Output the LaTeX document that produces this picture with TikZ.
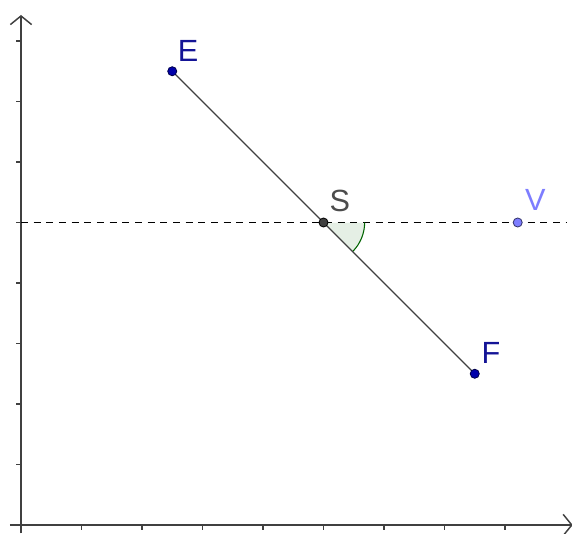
\documentclass[tikz,border=0pt]{standalone}
\usepackage{fontspec}
\setmainfont{Liberation Sans}
\usetikzlibrary{arrows.meta}
\definecolor{ptblue}{RGB}{0,0,170}
\definecolor{lblblue}{RGB}{20,20,150}
\definecolor{vcol}{RGB}{125,125,255}
\definecolor{angcol}{RGB}{0,100,0}
\begin{document}
\begin{tikzpicture}[x=45.375pt,y=45.375pt,
  axis/.style={line width=1.1pt,draw=black!75,-{Straight Barb[length=6.5pt,width=16pt,line width=1.1pt]}},
  tick/.style={line width=1.1pt,draw=black!75},
  pt/.style={circle,inner sep=0pt,minimum size=6.8pt,line width=0.6pt},
  lbl/.style={inner sep=0pt,font=\fontsize{23}{26}\selectfont}]
\useasboundingbox (-0.3471,-0.1322) rectangle (9.1074,8.6777);
% axes
\coordinate (xs) at (-0.182,0);
\coordinate (xe) at (9.12,0);
\coordinate (ys) at (0,-0.14);
\coordinate (ye) at (0,8.43);
\draw[axis] (xs) -- (xe);
\draw[axis] (ys) -- (ye);
\foreach \i in {1,...,8} {\draw[tick] (\i,0) -- (\i,-0.09);}
\foreach \i in {1,...,8} {\draw[tick] (0,\i) -- (-0.09,\i);}
% dashed line
\coordinate (dl) at (0,5);
\coordinate (dr) at (9.02,5);
\draw[dash pattern=on 5.2pt off 4.3pt,line width=1pt] (dl) -- (dr);
% points coords
\coordinate (Ec) at (2.5,7.5);
\coordinate (Fc) at (7.5,2.5);
\coordinate (Sc) at (5,5);
% angle
\fill[angcol,fill opacity=0.1] (Sc) -- ++(0:0.68) arc[start angle=0,end angle=-45,radius=0.68] -- cycle;
\draw[angcol,line width=0.8pt] (Sc) ++(0:0.68) arc[start angle=0,end angle=-45,radius=0.68];
% segment
\draw[line width=1pt,black!75] (Ec) -- (Fc);
% points
\node[pt,fill=ptblue,draw=black!70!blue] (E) at (Ec) {};
\node[pt,fill=ptblue,draw=black!70!blue] (F) at (Fc) {};
\node[pt,fill=black!75,draw=black] (S) at (Sc) {};
\node[pt,fill=vcol,draw=black!60!vcol] (V) at (8.21,5) {};
% labels
\node[lbl,text=lblblue] (El) at (2.76,7.83) {E};
\node[lbl,text=black!70] (Sl) at (5.27,5.36) {S};
\node[lbl,text=lblblue] (Fl) at (7.77,2.84) {F};
\node[lbl,text=vcol] (Vl) at (8.50,5.37) {V};
\end{tikzpicture}
\end{document}
